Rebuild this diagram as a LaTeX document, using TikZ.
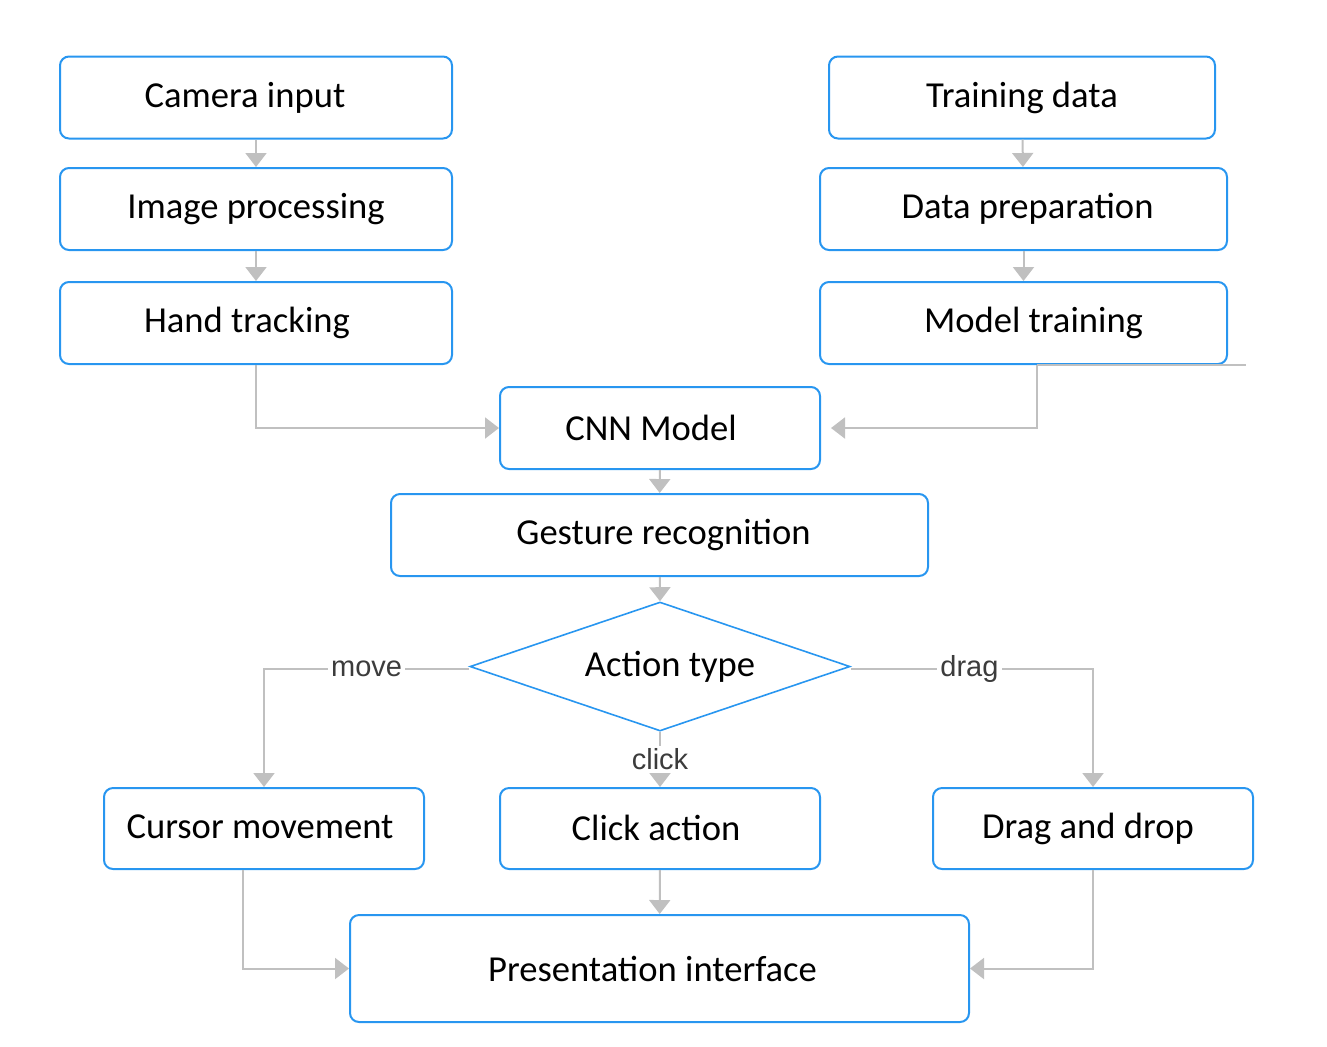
\documentclass[tikz,border=0pt]{standalone}
\usepackage{fontspec}
\setmainfont{Carlito}
\newfontfamily\lblfont{Liberation Sans}
\usetikzlibrary{shapes.geometric,arrows.meta,positioning}
\definecolor{boxblue}{RGB}{40,150,240}
\definecolor{linegray}{RGB}{192,192,192}
\definecolor{lbltext}{RGB}{60,60,60}
\tikzset{
  box/.style={draw=boxblue,line width=1pt,rounded corners=4.5pt,fill=white,
    font=\fontsize{18.3}{21}\selectfont,inner sep=0pt},
  dec/.style={draw=boxblue,line width=0.8pt,diamond,aspect=2.95,fill=white,inner sep=0pt,
    font=\fontsize{18.3}{21}\selectfont},
  conn/.style={draw=linegray,line width=1pt,-{Triangle[length=7pt,width=10.5pt]}},
  plain/.style={draw=linegray,line width=1pt},
  lbl/.style={fill=white,font=\lblfont\fontsize{14.5}{16}\selectfont,text=lbltext,inner sep=1.5pt}
}
\begin{document}
\begin{tikzpicture}[x=0.5pt,y=-0.5pt]
\useasboundingbox (0,0) rectangle (1327,1046);
% left column
\node[box,minimum width=196pt,minimum height=41pt] (cam) at (256,97.5) {\hspace{-11pt}Camera input};
\node[box,minimum width=196pt,minimum height=41pt] (img) at (256,209) {Image processing};
\node[box,minimum width=196pt,minimum height=41pt] (hand) at (256,323) {\hspace{-9pt}Hand tracking};
% right column
\node[box,minimum width=193pt,minimum height=41pt] (train) at (1022,97.5) {Training data};
\node[box,minimum width=203.5pt,minimum height=41pt] (prep) at (1023.5,209) {\raisebox{1.5pt}{\hspace{4pt}Data preparation}};
\node[box,minimum width=203.5pt,minimum height=41pt] (model) at (1023.5,323) {\raisebox{1.5pt}{\hspace{10pt}Model training}};
% middle
\node[box,minimum width=160pt,minimum height=41pt] (cnn) at (660,428) {\hspace{-9pt}CNN Model};
\node[box,minimum width=268.5pt,minimum height=41pt] (gest) at (659.5,535) {\hspace{4pt}Gesture recognition};
\node[dec,minimum width=190pt,minimum height=64.5pt] (act) at (660,666.5) {\makebox[0pt]{\raisebox{2pt}{\hspace{10pt}Action type}}};
% outputs
\node[box,minimum width=160pt,minimum height=40.5pt] (cur) at (264,828.5) {\raisebox{1.5pt}{\hspace{-4pt}Cursor movement}};
\node[box,minimum width=160pt,minimum height=40.5pt] (click) at (660,828.5) {\raisebox{1pt}{\hspace{-4pt}Click action}};
\node[box,minimum width=160pt,minimum height=40.5pt] (drag) at (1093,828.5) {\raisebox{1.5pt}{\hspace{-5pt}Drag and drop}};
\node[box,minimum width=309.5pt,minimum height=53.5pt] (pres) at (659.5,968.5) {\hspace{-7pt}Presentation interface};
% connectors
\draw[conn] (cam) -- (img);
\draw[conn] (img) -- (hand);
\draw[conn] (hand.south) |- (cnn.west);
\draw[conn] (train) -- (prep);
\draw[conn] (prep) -- (model);
\coordinate (mstart) at ([xshift=6.5pt]model.south);
\coordinate (mend) at ([xshift=5pt]cnn.east);
\coordinate (mstray) at ([xshift=111pt]model.south);
\draw[plain] (mstart) -- (mstray);
\draw[conn] (mstart) |- (mend);
\draw[conn] (cnn) -- (gest);
\draw[conn] (gest) -- (act.north);
\draw[conn] ([yshift=-1pt]act.west) -| node[lbl,pos=0.25] {move} (cur.north);
\draw[conn] ([yshift=-1pt]act.east) -| node[lbl,pos=0.245] {drag} (drag.north);
\draw[conn] (act.south) -- node[lbl,pos=0.5] {click} (click.north);
\coordinate (curs) at ([xshift=-10.5pt]cur.south);
\draw[conn] (curs) |- (pres.west);
\draw[conn] (click) -- (pres);
\draw[conn] (drag.south) |- (pres.east);
\end{tikzpicture}
\end{document}
